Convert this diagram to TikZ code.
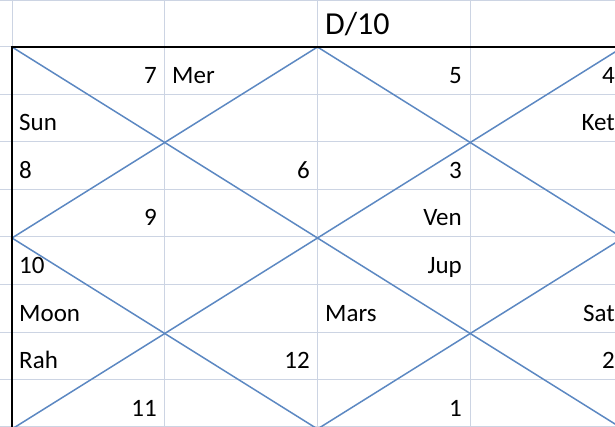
\documentclass[tikz,border=0pt]{standalone}
\usepackage{fontspec}
\setmainfont{Carlito}
\definecolor{gridgray}{RGB}{204,212,227}
\definecolor{lineblue}{RGB}{92,136,194}

\begin{document}
\begin{tikzpicture}[x=1pt, y=-1pt,
  cell/.style={inner sep=0pt, font=\fontsize{25}{30}\selectfont},
  lcell/.style={cell, anchor=base west},
  rcell/.style={cell, anchor=base east},
  gridline/.style={draw=gridgray, line width=1pt},
  diag/.style={draw=lineblue, line width=1.5pt}
]
  \path[use as bounding box] (0,0) rectangle (615,427);
  \clip (0,0) rectangle (615,427);

  % sheet grid
  \foreach \x in {12,164.75,317.5,470.25}
    \draw[gridline] (\x,0) -- (\x,427);
  \foreach \y in {0.5,47,94.5,142,189.5,237,284.5,332,379.5,426.5}
    \draw[gridline] (0,\y) -- (615,\y);

  % chart frame
  \coordinate (nw) at (12,47);
  \coordinate (ne) at (623,47);
  \coordinate (se) at (623,429);
  \coordinate (sw) at (12,429);
  \coordinate (n) at (317.5,47);
  \coordinate (e) at (623,238);
  \coordinate (s) at (317.5,429);
  \coordinate (w) at (12,238);

  \draw[diag] (nw) -- (se);
  \draw[diag] (ne) -- (sw);
  \draw[diag] (n) -- (e) -- (s) -- (w) -- cycle;
  \draw[line width=1.5pt] (nw) rectangle (se);

  \node[anchor=base west, inner sep=0pt, font=\fontsize{32}{38}\selectfont] (title) at (325,35) {D/10};

  % houses and planets
  \node[rcell] (h7) at (157,83.5) {7};
  \node[lcell] (mer) at (172,83.5) {Mer};
  \node[rcell] (h5) at (462,83.5) {5};
  \node[rcell] (h4) at (615,83.5) {4};

  \node[lcell] (sun) at (19,131) {Sun};
  \node[rcell] (ket) at (615,131) {Ket};

  \node[lcell] (h8) at (19,178.5) {8};
  \node[rcell] (h6) at (310,178.5) {6};
  \node[rcell] (h3) at (462,178.5) {3};

  \node[rcell] (h9) at (157,226) {9};
  \node[rcell] (ven) at (462,226) {Ven};

  \node[lcell] (h10) at (19,273.5) {10};
  \node[rcell] (jup) at (462,273.5) {Jup};

  \node[lcell] (moon) at (19,321) {Moon};
  \node[lcell] (mars) at (325,321) {Mars};
  \node[rcell] (sat) at (615,321) {Sat};

  \node[lcell] (rah) at (19,368.5) {Rah};
  \node[rcell] (h12) at (310,368.5) {12};
  \node[rcell] (h2) at (615,368.5) {2};

  \node[rcell] (h11) at (157,416) {11};
  \node[rcell] (h1) at (462,416) {1};
\end{tikzpicture}
\end{document}
